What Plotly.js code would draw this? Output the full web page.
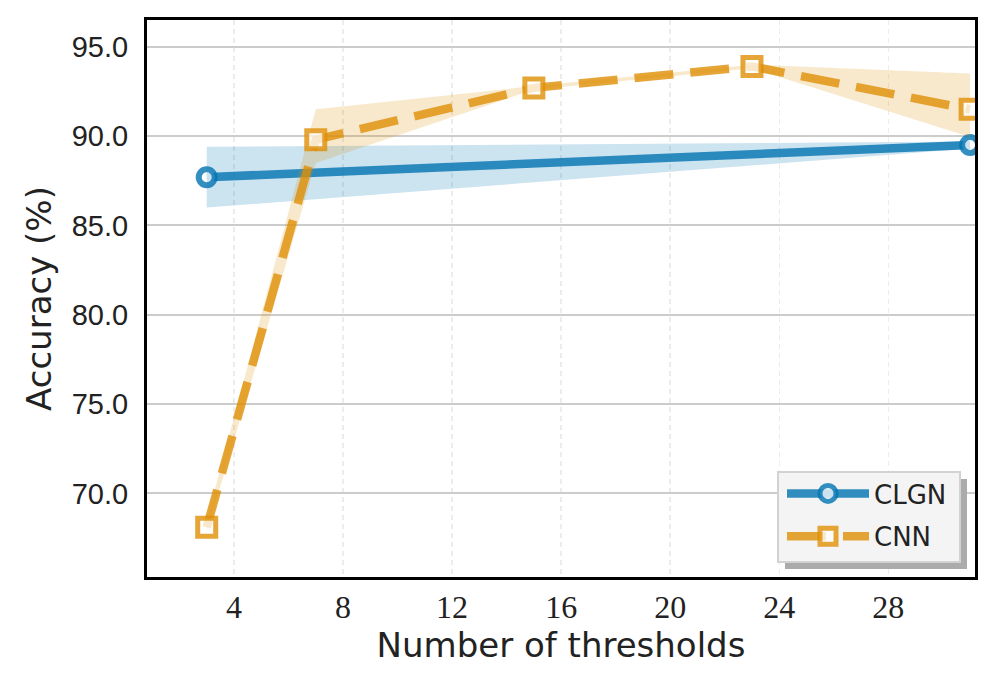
<!DOCTYPE html>
<html>
<head>
<meta charset="utf-8">
<script src="https://cdn.plot.ly/plotly-3.0.1.min.js"></script>
<style>html,body{margin:0;padding:0;background:#fff;}#chart{width:997px;height:690px;}</style>
</head>
<body>
<div id="chart"></div>
<script>
// Data
const clgnX = [3, 31];
const clgnAcc = [87.7, 89.5];
const clgnLow = [86.0, 89.3];
const clgnHigh = [89.4, 89.7];

const cnnX = [3, 7, 15, 23, 31];
const cnnAcc = [68.1, 89.8, 92.7, 93.9, 91.5];
const cnnLow = [67.8, 88.5, 92.6, 93.8, 89.95];
const cnnHigh = [68.5, 91.5, 92.8, 94.0, 93.5];

const xTicks = [4, 8, 12, 16, 20, 24, 28];
const yTicks = [70, 75, 80, 85, 90, 95];
const yTickText = yTicks.map(v => v.toFixed(1));

const blue = 'rgba(1,115,178,0.8)';
const blueFill = 'rgba(1,115,178,0.2)';
const orange = 'rgba(222,143,5,0.8)';
const orangeFill = 'rgba(222,143,5,0.2)';

const traces = [
  {x: clgnX, y: clgnLow, mode: 'lines', line: {width: 0, color: blueFill}, showlegend: false, hoverinfo: 'skip', legendgroup: 'a'},
  {x: clgnX, y: clgnHigh, mode: 'lines', line: {width: 0, color: blueFill}, fill: 'tonexty', fillcolor: blueFill, showlegend: false, hoverinfo: 'skip', legendgroup: 'a'},
  {x: clgnX, y: clgnAcc, name: 'CLGN', mode: 'lines+markers', legendgroup: 'a',
   line: {color: blue, width: 8.5},
   marker: {symbol: 'circle', size: 16, color: 'rgba(255,255,255,0.75)', line: {color: blue, width: 6}}},
  {x: cnnX, y: cnnLow, mode: 'lines', line: {width: 0, color: orangeFill}, showlegend: false, hoverinfo: 'skip', legendgroup: 'b'},
  {x: cnnX, y: cnnHigh, mode: 'lines', line: {width: 0, color: orangeFill}, fill: 'tonexty', fillcolor: orangeFill, showlegend: false, hoverinfo: 'skip', legendgroup: 'b'},
  {x: cnnX, y: cnnAcc, name: 'CNN', mode: 'lines+markers', legendgroup: 'b',
   line: {color: orange, width: 8.5, dash: '39px,17px'},
   marker: {symbol: 'square', size: 18, color: 'rgba(255,255,255,0.75)', line: {color: orange, width: 5}}}
];

function px2x(px) { return (px - 147) / 828; }
function px2y(py) { return (577 - py) / 557; }

const layout = {
  width: 997, height: 690,
  margin: {l: 147, r: 22, t: 20, b: 113},
  paper_bgcolor: '#ffffff', plot_bgcolor: '#ffffff',
  showlegend: true,
  xaxis: {
    range: [0.81, 31.18],
    tickvals: xTicks, ticktext: xTicks.map(String),
    tickfont: {family: 'Liberation Serif, serif', size: 32, color: '#222'},
    ticks: '', ticklabelstandoff: 0,
    showgrid: true, gridcolor: '#ececec', gridwidth: 1.5, griddash: '5px,4px',
    showline: true, mirror: true, linecolor: '#000', linewidth: 3,
    zeroline: false,
    title: {text: 'Number of thresholds', font: {family: 'DejaVu Sans, sans-serif', size: 34, color: '#222'}, standoff: 8}
  },
  yaxis: {
    range: [65.32, 96.5],
    tickvals: yTicks, ticktext: yTickText,
    tickfont: {family: 'Liberation Sans, Arial, sans-serif', size: 29, color: '#222'},
    ticks: '', ticklabelstandoff: 10,
    showgrid: true, gridcolor: '#cccccc', gridwidth: 2,
    showline: true, mirror: true, linecolor: '#000', linewidth: 3,
    zeroline: false,
    title: {text: 'Accuracy (%)', font: {family: 'DejaVu Sans, sans-serif', size: 34, color: '#222'}, standoff: 10}
  },
  legend: {
    x: px2x(782), xanchor: 'left', y: px2y(470), yanchor: 'top',
    bgcolor: 'rgba(0,0,0,0)', borderwidth: 0,
    font: {family: 'DejaVu Sans, sans-serif', size: 26, color: '#222'},
    traceorder: 'grouped', tracegroupgap: 6, itemwidth: 82
  },
  shapes: [
    {type: 'rect', xref: 'paper', yref: 'paper', x0: px2x(785), x1: px2x(967), y0: px2y(569), y1: px2y(479),
     fillcolor: '#ababab', line: {width: 0}, layer: 'above'},
    {type: 'rect', xref: 'paper', yref: 'paper', x0: px2x(778), x1: px2x(960), y0: px2y(562), y1: px2y(472),
     fillcolor: '#f4f4f4', line: {color: '#d2d2d2', width: 2}, layer: 'above'}
  ]
};

Plotly.newPlot('chart', traces, layout, {staticPlot: true, displayModeBar: false});
</script>
</body>
</html>
